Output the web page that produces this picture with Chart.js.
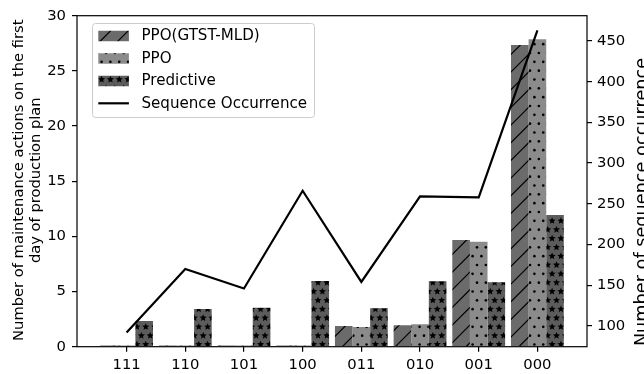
<!DOCTYPE html>
<html><head><meta charset="utf-8">
<script src="https://cdn.jsdelivr.net/npm/chart.js@4/dist/chart.umd.min.js"></script>
<style>html,body{margin:0;padding:0;background:#fff;overflow:hidden}#wrap{width:644px;height:374px;position:relative}</style>
</head><body><div id="wrap"><canvas id="c" width="644" height="374"></canvas></div>
<script>
const categories = ['111','110','101','100','011','010','001','000'];
const gtstValues = [0.1, 0.1, 0.1, 0.1, 1.88, 1.94, 9.67, 27.35];
const ppoValues = [0.1, 0.1, 0.1, 0.1, 1.79, 2.03, 9.52, 27.87];
const predictiveValues = [2.33, 3.42, 3.54, 5.96, 3.48, 5.93, 5.84, 11.94];
const occurrenceValues = [92, 170, 146, 266, 154, 259, 258, 463];
const leftTicks = [0, 5, 10, 15, 20, 25, 30];
const rightTicks = [100, 150, 200, 250, 300, 350, 400, 450];
const seriesNames = ['PPO(GTST-MLD)', 'PPO', 'Predictive', 'Sequence Occurrence'];
const leftTitle = ['Number of maintenance actions on the first', 'day of production plan'];
const rightTitle = 'Number of sequence occurrence';

const FONT = '"DejaVu Sans", "Liberation Sans", sans-serif';
const TILE = 53;
const mainCtx = document.getElementById('c').getContext('2d');
function makePattern(bg, drawFn) {
  const c = document.createElement('canvas');
  c.width = TILE; c.height = TILE;
  const g = c.getContext('2d');
  g.fillStyle = bg; g.fillRect(0, 0, TILE, TILE);
  drawFn(g);
  return mainCtx.createPattern(c, 'repeat');
}
const slashPattern = makePattern('#6b6b6b', g => {
  g.strokeStyle = '#000'; g.lineWidth = 1.2;
  const s = TILE / 3;
  for (let k = 0; k <= 6; k++) {
    const c = k * s;
    g.beginPath(); g.moveTo(-5, c + 5); g.lineTo(c + 5, -5); g.stroke();
  }
});
const dotPattern = makePattern('#8b8b8b', g => {
  g.fillStyle = '#000';
  const s = TILE / 6;
  for (let r = -1; r <= 7; r++) {
    const off = (((r % 2) + 2) % 2) * s / 2;
    for (let j = -1; j <= 7; j++) {
      g.beginPath(); g.arc(j * s + off, r * s, 1.3, 0, Math.PI * 2); g.fill();
    }
  }
});
function star(g, cx, cy, ro, ri) {
  g.beginPath();
  for (let i = 0; i < 10; i++) {
    const r = i % 2 === 0 ? ro : ri;
    const a = -Math.PI / 2 + i * Math.PI / 5;
    const x = cx + r * Math.cos(a), y = cy + r * Math.sin(a);
    if (i === 0) g.moveTo(x, y); else g.lineTo(x, y);
  }
  g.closePath(); g.fill();
}
const starPattern = makePattern('#5c5c5c', g => {
  g.fillStyle = '#000';
  const s = TILE / 6;
  for (let r = -1; r <= 7; r++) {
    const off = (((r % 2) + 2) % 2) * s / 2;
    for (let j = -1; j <= 7; j++) star(g, j * s + off, r * s, 3.7, 1.7);
  }
});

const toPoints = arr => arr.map((v, i) => ({ x: i, y: v }));

const decor = {
  id: 'decor',
  afterDatasetsDraw(chart) {
    const { ctx, chartArea: a } = chart;
    ctx.save();
    ctx.strokeStyle = '#000'; ctx.lineWidth = 1.2;
    ctx.strokeRect(a.left, a.top, a.right - a.left, a.bottom - a.top);
    ctx.restore();
  },
  afterDraw(chart) {
    const { ctx, chartArea: a } = chart;
    ctx.save();
    ctx.fillStyle = '#000';
    ctx.font = '14.7px ' + FONT;
    ctx.textAlign = 'center'; ctx.textBaseline = 'alphabetic';
    const cy = (a.top + a.bottom) / 2;
    [22.5, 39.5].forEach((bx, i) => {
      ctx.save(); ctx.translate(bx, cy - 1); ctx.rotate(-Math.PI / 2);
      ctx.fillText(leftTitle[i], 0, 0); ctx.restore();
    });
    ctx.font = '17.7px ' + FONT;
    ctx.save(); ctx.translate(647, 202); ctx.rotate(-Math.PI / 2);
    ctx.fillText(rightTitle, 0, 0); ctx.restore();
    const bx = 92.5, by = 23.5, bw = 222, bh = 94;
    ctx.beginPath(); ctx.roundRect(bx, by, bw, bh, 3);
    ctx.fillStyle = 'rgba(255,255,255,0.8)'; ctx.fill();
    ctx.strokeStyle = '#cccccc'; ctx.lineWidth = 1; ctx.stroke();
    const rows = [36, 58.5, 81, 103.3];
    const fills = [slashPattern, dotPattern, starPattern];
    const hx = 98.3, hw = 30.6, hh = 10.5;
    ctx.font = '15.1px ' + FONT;
    ctx.textAlign = 'left'; ctx.textBaseline = 'middle';
    rows.forEach((ry, i) => {
      if (i < 3) {
        ctx.fillStyle = fills[i];
        ctx.fillRect(hx, ry - hh / 2, hw, hh);
      } else {
        ctx.strokeStyle = '#000'; ctx.lineWidth = 2.2;
        ctx.beginPath(); ctx.moveTo(hx, ry); ctx.lineTo(hx + hw, ry); ctx.stroke();
      }
      ctx.fillStyle = '#000';
      ctx.fillText(seriesNames[i], 141.5, ry + 0.5);
    });
    ctx.restore();
  }
};

const tickFont = { family: FONT, size: 14.8 };
new Chart(document.getElementById('c'), {
  type: 'bar',
  data: {
    datasets: [
      { label: seriesNames[0], data: toPoints(gtstValues), backgroundColor: slashPattern, borderWidth: 0, yAxisID: 'y', order: 1 },
      { label: seriesNames[1], data: toPoints(ppoValues), backgroundColor: dotPattern, borderWidth: 0, yAxisID: 'y', order: 1 },
      { label: seriesNames[2], data: toPoints(predictiveValues), backgroundColor: starPattern, borderWidth: 0, yAxisID: 'y', order: 1 },
      { type: 'line', label: seriesNames[3], data: toPoints(occurrenceValues), borderColor: '#000', borderWidth: 2.2, pointRadius: 0, tension: 0, fill: false, yAxisID: 'y2', order: 0 }
    ]
  },
  options: {
    responsive: false, animation: false, devicePixelRatio: 1,
    layout: { padding: { top: 15.7, left: 0, right: 0, bottom: 0 } },
    datasets: { bar: { categoryPercentage: 0.9, barPercentage: 1.0 } },
    plugins: { legend: { display: false }, tooltip: { enabled: false }, title: { display: false } },
    scales: {
      x: {
        type: 'linear', min: -0.845, max: 7.845, offset: false,
        afterBuildTicks: s => { s.ticks = categories.map((_, i) => ({ value: i })); },
        afterFit: s => { s.height = 27.3; },
        ticks: { callback: v => categories[v] ?? '', font: tickFont, color: '#000', padding: 5, maxRotation: 0, autoSkip: false },
        grid: { drawOnChartArea: false, tickLength: 5, color: '#000', lineWidth: 1.2, offset: false },
        border: { display: false }
      },
      y: {
        position: 'left', min: 0, max: 30,
        afterBuildTicks: s => { s.ticks = leftTicks.map(v => ({ value: v })); },
        afterFit: s => { s.width = 77; },
        ticks: { font: tickFont, color: '#000', padding: 6 },
        grid: { drawOnChartArea: false, tickLength: 5, color: '#000', lineWidth: 1.2 },
        border: { display: false }
      },
      y2: {
        position: 'right', min: 74.5, max: 481,
        afterBuildTicks: s => { s.ticks = rightTicks.map(v => ({ value: v })); },
        afterFit: s => { s.width = 57; },
        ticks: { font: tickFont, color: '#000', padding: 5 },
        grid: { drawOnChartArea: false, tickLength: 5, color: '#000', lineWidth: 1.2 },
        border: { display: false }
      }
    }
  },
  plugins: [decor]
});
</script></body></html>
